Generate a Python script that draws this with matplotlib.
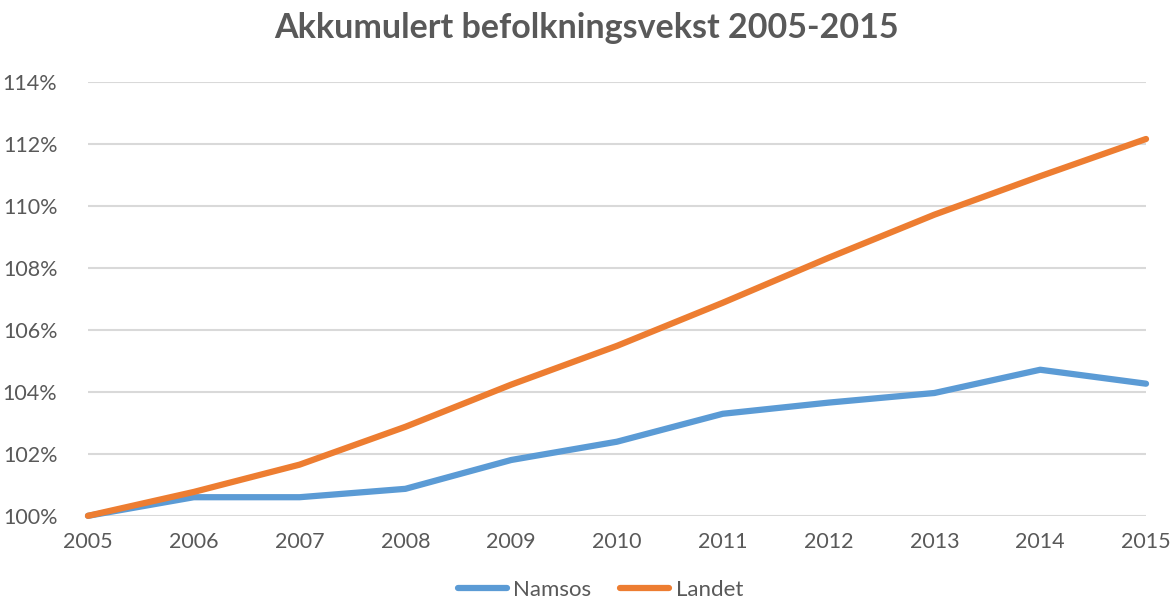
import matplotlib.pyplot as plt
from matplotlib.ticker import FuncFormatter

YEARS = [2005, 2006, 2007, 2008, 2009, 2010, 2011, 2012, 2013, 2014, 2015]
NAMSOS = [100.0, 100.6, 100.6, 100.87, 101.8, 102.39, 103.29, 103.65, 103.96, 104.71, 104.26]
LANDET = [100.0, 100.77, 101.65, 102.87, 104.23, 105.48, 106.87, 108.32, 109.71, 110.95, 112.15]
YTICKS = [100, 102, 104, 106, 108, 110, 112, 114]

GREY = "#595959"
plt.rcParams["font.family"] = ["Lato", "DejaVu Sans"]

fig = plt.figure(figsize=(11.73, 6.09), dpi=100)
ax = fig.add_axes([0.075, 0.153, 0.902, 0.713])

ax.plot(YEARS, NAMSOS, color="#5B9BD5", lw=4.5, solid_capstyle="round",
        clip_on=False, label="Namsos")
ax.plot(YEARS, LANDET, color="#ED7D31", lw=4.5, solid_capstyle="round",
        clip_on=False, label="Landet")

ax.set_xlim(YEARS[0], YEARS[-1])
ax.set_ylim(100, 114)
ax.set_yticks(YTICKS)
ax.set_xticks(YEARS)
ax.yaxis.set_major_formatter(FuncFormatter(lambda v, p: f"{v:.0f}%"))
ax.grid(axis="y", color="#D9D9D9", lw=1.5)
ax.set_axisbelow(True)
for s in ax.spines.values():
    s.set_visible(False)
ax.tick_params(length=0, labelsize=15.5, labelcolor=GREY)
ax.tick_params(axis="y", pad=22)
ax.tick_params(axis="x", pad=12)

fig.suptitle("Akkumulert befolkningsvekst 2005-2015", fontsize=24.5, fontweight="bold",
             color=GREY, y=0.98)

leg = fig.legend(loc="lower center", ncol=2, frameon=False, fontsize=16,
                 bbox_to_anchor=(0.512, -0.018), handlelength=2.2, handletextpad=0.3,
                 columnspacing=1.3)
for t in leg.get_texts():
    t.set_color(GREY)

fig.savefig("out.png", dpi=100)
